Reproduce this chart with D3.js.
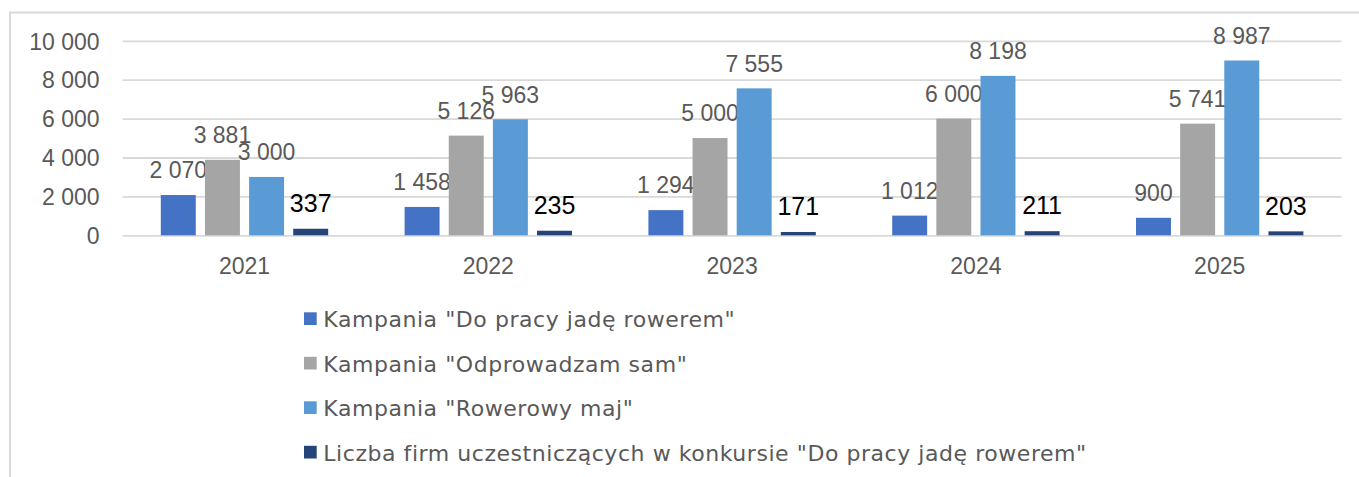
<!DOCTYPE html>
<html lang="pl">
<head>
<meta charset="utf-8">
<title>Kampanie rowerowe 2021–2025</title>
<script src="https://cdn.jsdelivr.net/npm/d3@7/dist/d3.min.js"></script>
<style>
  html, body { margin: 0; padding: 0; background: #fff; }
  svg { display: block; }
  .num { font-family: "Liberation Sans", Arial, sans-serif; }
  .leg { font-family: "DejaVu Sans", "Liberation Sans", sans-serif; letter-spacing: 0.55px; }
</style>
</head>
<body>
<svg id="chart" width="1359" height="477"></svg>
<script>
// Lata (kategorie osi X)
const years = ["2021", "2022", "2023", "2024", "2025"];

// Nazwy serii
const seriesNames = [
  'Kampania "Do pracy jadę rowerem"',
  'Kampania "Odprowadzam sam"',
  'Kampania "Rowerowy maj"',
  'Liczba firm uczestniczących w konkursie "Do pracy jadę rowerem"'
];

// Wartości serii
const doPracy      = [2070, 1458, 1294, 1012, 900];
const odprowadzam  = [3881, 5126, 5000, 6000, 5741];
const rowerowyMaj  = [3000, 5963, 7555, 8198, 8987];
const liczbaFirm   = [337, 235, 171, 211, 203];

// Podziałka osi Y
const yTicks = [0, 2000, 4000, 6000, 8000, 10000];

const seriesValues = [doPracy, odprowadzam, rowerowyMaj, liczbaFirm];
const colors = ["#4472C4", "#A5A5A5", "#5B9BD5", "#264478"];

const svg = d3.select("#chart");

// Ramka wykresu
svg.append("rect")
  .attr("x", 10).attr("y", 12.5)
  .attr("width", 1400).attr("height", 500)
  .attr("fill", "none")
  .attr("stroke", "#d9d9d9")
  .attr("stroke-width", 2);

const plot = { left: 122.6, right: 1341.6, top: 40.8, bottom: 235.3 };

const x0 = d3.scaleBand()
  .domain(years)
  .range([plot.left, plot.right])
  .paddingInner(0.3134)
  .paddingOuter(0.1567);

const x1 = d3.scaleBand()
  .domain(d3.range(seriesNames.length))
  .range([0, x0.bandwidth()])
  .paddingInner(0.208)
  .paddingOuter(0);

const y = d3.scaleLinear()
  .domain([0, 10000])
  .range([plot.bottom, plot.top]);

const plFormat = d3.formatLocale({
  decimal: ",", thousands: " ", grouping: [3], currency: ["", " zł"]
}).format(",");

// Oś Y z liniami siatki
const yAxis = svg.append("g")
  .attr("transform", `translate(${plot.left},0)`)
  .call(d3.axisLeft(y)
    .tickValues(yTicks)
    .tickSize(-(plot.right - plot.left))
    .tickPadding(23)
    .tickFormat(plFormat));
yAxis.select(".domain").remove();
yAxis.selectAll(".tick line")
  .attr("stroke", "#d9d9d9")
  .attr("stroke-width", 1.8);
yAxis.selectAll(".tick text")
  .attr("class", "num")
  .attr("font-size", 23)
  .attr("fill", "#595959")
  .attr("dy", "0.36em");

// Oś X (etykiety lat)
const xAxis = svg.append("g")
  .attr("transform", `translate(0,${plot.bottom})`)
  .call(d3.axisBottom(x0).tickSize(0).tickPadding(0));
xAxis.select(".domain").remove();
xAxis.selectAll(".tick text")
  .attr("class", "num")
  .attr("font-size", 23)
  .attr("fill", "#595959")
  .attr("y", 38.7)
  .attr("dy", 0);

// Słupki
const groups = svg.append("g")
  .selectAll("g")
  .data(years)
  .join("g")
  .attr("transform", d => `translate(${x0(d)},0)`);

const cells = groups.selectAll("g.cell")
  .data((d, i) => seriesValues.map((vals, s) => ({ s, v: vals[i] })))
  .join("g")
  .attr("class", "cell");

cells.append("rect")
  .attr("x", d => x1(d.s))
  .attr("y", d => y(d.v))
  .attr("width", x1.bandwidth())
  .attr("height", d => y(0) - y(d.v))
  .attr("fill", d => colors[d.s]);

// Etykiety wartości
cells.append("text")
  .attr("class", "num")
  .attr("x", d => x1(d.s) + x1.bandwidth() / 2)
  .attr("y", d => y(d.v) - 16.7)
  .attr("text-anchor", "middle")
  .attr("font-size", d => d.s === 3 ? 25 : 23)
  .attr("fill", d => d.s === 3 ? "#000000" : "#595959")
  .text(d => plFormat(d.v));

// Legenda
const legend = svg.append("g")
  .attr("transform", "translate(304,312.3)");

const items = legend.selectAll("g")
  .data(seriesNames)
  .join("g")
  .attr("transform", (d, i) => `translate(0,${i * 44.5})`);

items.append("rect")
  .attr("width", 12.7)
  .attr("height", 12.7)
  .attr("fill", (d, i) => colors[i]);

items.append("text")
  .attr("class", "leg")
  .attr("x", 19.3)
  .attr("y", 15)
  .attr("font-size", 22)
  .attr("fill", "#595959")
  .text(d => d);
</script>
</body>
</html>
